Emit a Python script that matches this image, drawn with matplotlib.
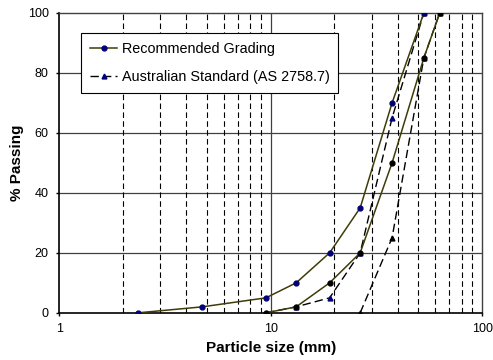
"""
plot.py — Particle size grading envelopes (recommended vs AS 2758.7).
"""

import matplotlib
matplotlib.use("Agg")
import matplotlib.pyplot as plt
from matplotlib.ticker import FixedLocator, NullFormatter, FixedFormatter

plt.rcParams["font.family"] = ["Liberation Sans", "DejaVu Sans"]

# ---------------------------------------------------------------------------
# Data (sieve sizes in mm, % passing)
# ---------------------------------------------------------------------------
rec_upper_size = [2.36, 4.75, 9.5, 13.2, 19, 26.5, 37.5, 53]
rec_upper_pass = [0, 2, 5, 10, 20, 35, 70, 100]

rec_lower_size = [9.5, 13.2, 19, 26.5, 37.5, 53, 63]
rec_lower_pass = [0, 2, 10, 20, 50, 85, 100]

as_upper_size = [9.5, 13.2, 19, 26.5, 37.5, 53]
as_upper_pass = [0, 2, 5, 20, 65, 100]

as_lower_size = [26.5, 37.5, 53, 63]
as_lower_pass = [0, 25, 85, 100]

y_ticks = [0, 20, 40, 60, 80, 100]
x_ticks = [1, 10, 100]

OLIVE = "#3f3c08"
NAVY = "#00007a"

fig = plt.figure(figsize=(4.93, 3.6), dpi=100)
ax = fig.add_axes([0.12, 0.131, 0.858, 0.833])

# Grid: solid horizontals, dashed minor verticals, solid major vertical
for y in y_ticks[1:-1]:
    ax.axhline(y, color="#404040", linewidth=0.9, zorder=1)
for dec in (1, 10):
    for k in range(2, 10):
        ax.axvline(dec * k, color="black", linewidth=0.8,
                   linestyle=(0, (5, 3)), zorder=1)
ax.axvline(10, color="#404040", linewidth=0.9, zorder=1)

# Australian standard envelope
ax.plot(as_lower_size, as_lower_pass, color="black", linewidth=1.0,
        linestyle=(0, (6, 3)), marker="^", markersize=3.5,
        markerfacecolor="black", markeredgecolor="black", zorder=3)
ax.plot(as_upper_size, as_upper_pass, color="black", linewidth=1.0,
        linestyle=(0, (6, 3)), marker="^", markersize=3.5,
        markerfacecolor=NAVY, markeredgecolor=NAVY, zorder=3,
        label="Australian Standard (AS 2758.7)")

# Recommended grading envelope
ax.plot(rec_lower_size, rec_lower_pass, color=OLIVE, linewidth=1.1,
        marker="o", markersize=3.5, markerfacecolor="black",
        markeredgecolor="black", zorder=4)
ax.plot(rec_upper_size, rec_upper_pass, color=OLIVE, linewidth=1.1,
        marker="o", markersize=3.5, markerfacecolor=NAVY,
        markeredgecolor=NAVY, zorder=4, label="Recommended Grading")

ax.set_xscale("log")
ax.set_xlim(1, 100)
ax.set_ylim(0, 100)

ax.xaxis.set_major_locator(FixedLocator(x_ticks))
ax.xaxis.set_major_formatter(FixedFormatter([str(v) for v in x_ticks]))
ax.xaxis.set_minor_formatter(NullFormatter())
ax.tick_params(axis="x", which="minor", length=0)
ax.set_yticks(y_ticks)

ax.tick_params(axis="both", which="major", labelsize=9, length=2.5,
               width=1.0, direction="out", pad=5)

for side in ("top", "right"):
    ax.spines[side].set_linewidth(1.0)
    ax.spines[side].set_color("#404040")
for side in ("left", "bottom"):
    ax.spines[side].set_linewidth(1.2)

ax.set_xlabel("Particle size (mm)", fontsize=11, fontweight="bold")
ax.set_ylabel("% Passing", fontsize=11, fontweight="bold")
ax.xaxis.set_label_coords(0.5, -0.093)
ax.yaxis.set_label_coords(-0.082, 0.5)

handles, labels = ax.get_legend_handles_labels()
leg = ax.legend(handles[::-1], labels[::-1], loc="upper left",
                bbox_to_anchor=(0.052, 0.933), fontsize=10.4, frameon=True,
                fancybox=False, edgecolor="black", framealpha=1.0,
                borderpad=0.6, labelspacing=1.0, handlelength=1.9,
                handletextpad=0.3, borderaxespad=0, numpoints=1)
leg.get_frame().set_linewidth(0.8)

fig.savefig("out.png", dpi=100)
